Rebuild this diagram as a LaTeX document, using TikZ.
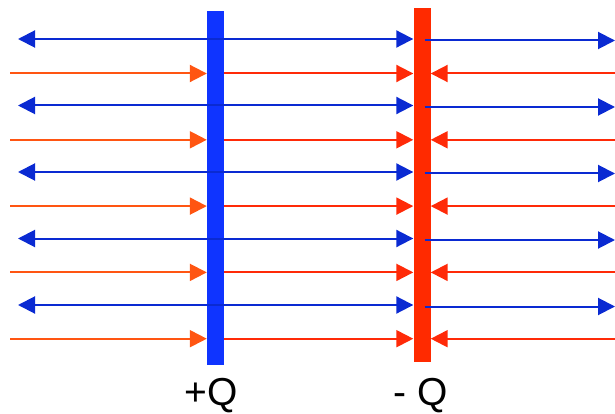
\documentclass[tikz,border=0pt]{standalone}
\usepackage{fontspec}
\setmainfont{Liberation Sans}
\usetikzlibrary{arrows.meta,positioning}
\definecolor{lineblue}{HTML}{0A2AD2}
\definecolor{plateblue}{HTML}{0F34FF}
\definecolor{lineorange}{HTML}{FF5512}
\definecolor{linered}{HTML}{FF2A08}
\definecolor{platered}{HTML}{FF2A00}

\begin{document}
\begin{tikzpicture}[
    x=1pt, y=-1pt,
    plate/.style={rectangle, draw=none, minimum width=17pt, minimum height=354pt, inner sep=0pt},
    field/.style={line width=2pt, -{Triangle[length=17pt, width=17pt]}},
    charge/.style={font=\fontsize{39}{42}\selectfont, anchor=base, inner sep=0pt}
]
\useasboundingbox (0,0) rectangle (615,414);

% Plates
\node[plate, fill=plateblue] (pos) at (215.5,188) {};
\node[plate, fill=platered] (neg) at (422,185) {};

% Field lines
\foreach \i in {0,...,4} {
  \pgfmathsetmacro{\yb}{39+66.5*\i}
  \pgfmathsetmacro{\yo}{73.5+66.3*\i}
  \coordinate (bl\i) at (18,\yb);
  \coordinate (br\i) at (615,\yb+1.5);
  \coordinate (ol\i) at (10,\yo);
  \coordinate (or\i) at (615,\yo);
  % blue lines
  \draw[field, lineblue] (pos.center |- bl\i) -- (bl\i);
  \draw[field, lineblue] (pos.center |- bl\i) -- (neg.west |- bl\i);
  \draw[field, lineblue] (neg.east |- br\i) ++(-6,0) -- (br\i);
  % orange lines
  \draw[field, lineorange] (ol\i) -- (pos.west |- ol\i);
  \draw[field, linered] (pos.east |- ol\i) -- (neg.west |- ol\i);
  \draw[field, linered] (or\i) -- (neg.east |- or\i);
}

% Charges
\node[charge] (qpos) at (211,405) {+Q};
\node[charge] (qneg) at (421,405) {- Q};

\end{tikzpicture}
\end{document}
